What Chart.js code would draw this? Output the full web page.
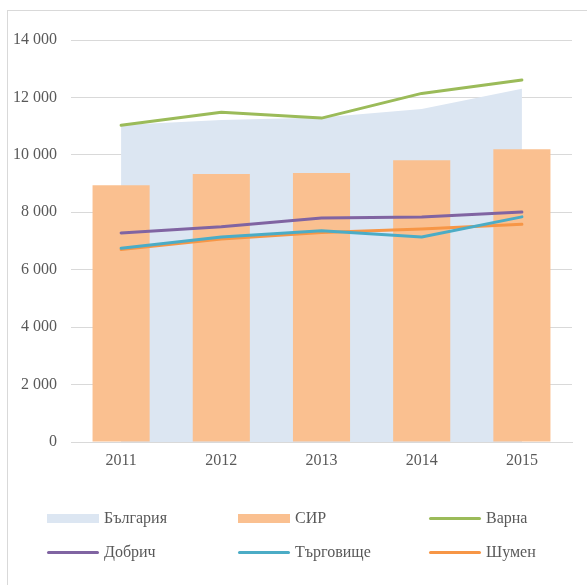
<!DOCTYPE html>
<html>
<head>
<meta charset="utf-8">
<script src="https://cdn.jsdelivr.net/npm/chart.js@4.4.1/dist/chart.umd.min.js"></script>
<style>
  html, body { margin: 0; padding: 0; background: #fff; }
  body { width: 587px; height: 585px; position: relative; overflow: hidden; font-family: "Liberation Serif", "Times New Roman", serif; }
  #frame { position: absolute; left: 7px; top: 10px; width: 620px; height: 620px; border: 1px solid #d9d9d9; box-sizing: border-box; }
  #wrap { position: absolute; left: 0; top: 0; width: 587px; height: 480px; }
  #legend { position: absolute; left: 0; top: 0; width: 587px; height: 585px; pointer-events: none; }
  .item { position: absolute; display: flex; align-items: center; height: 20px; color: #595959; font-size: 16px; white-space: nowrap; }
  .sw { width: 52px; margin-right: 5px; }
</style>
</head>
<body>
<div id="frame"></div>
<div id="wrap"><canvas id="chart"></canvas></div>
<div id="legend"></div>
<script>
// Данни
const years = ['2011', '2012', '2013', '2014', '2015'];
const bulgaria = [11040, 11215, 11300, 11600, 12300];
const sir = [8940, 9335, 9370, 9810, 10195];
const varna = [11030, 11480, 11280, 12140, 12610];
const dobrich = [7280, 7500, 7800, 7840, 8010];
const targovishte = [6750, 7140, 7360, 7140, 7840];
const shumen = [6700, 7070, 7300, 7420, 7580];

const tickColor = '#595959';
const gridColor = '#d9d9d9';
const font = { family: 'Liberation Serif', size: 16 };

function lineSet(label, data, color) {
  return {
    type: 'line',
    label: label,
    data: data,
    borderColor: color,
    backgroundColor: color,
    borderWidth: 3,
    borderCapStyle: 'round',
    borderJoinStyle: 'round',
    pointRadius: 0,
    tension: 0,
    fill: false,
    order: 1
  };
}

const ctx = document.getElementById('chart').getContext('2d');
const chart = new Chart(ctx, {
  data: {
    labels: years,
    datasets: [
      {
        type: 'line',
        label: 'България',
        data: bulgaria,
        backgroundColor: '#dce6f2',
        borderColor: '#dce6f2',
        borderWidth: 0,
        pointRadius: 0,
        fill: 'origin',
        order: 3
      },
      {
        type: 'bar',
        label: 'СИР',
        data: sir,
        backgroundColor: '#fac090',
        borderWidth: 0,
        barPercentage: 0.57,
        categoryPercentage: 1,
        order: 2
      },
      lineSet('Варна', varna, '#9bbb59'),
      lineSet('Добрич', dobrich, '#8064a2'),
      lineSet('Търговище', targovishte, '#4bacc6'),
      lineSet('Шумен', shumen, '#f79646')
    ]
  },
  options: {
    responsive: true,
    maintainAspectRatio: false,
    animation: false,
    layout: { padding: { top: 40, right: 15, left: 0, bottom: 0 } },
    plugins: {
      legend: { display: false },
      tooltip: { enabled: false }
    },
    scales: {
      x: {
        grid: { display: false, drawTicks: false },
        border: { display: true, color: gridColor, width: 1 },
        ticks: { color: tickColor, font: font, padding: 9 },
        afterFit: s => { s.height = 38; }
      },
      y: {
        min: 0,
        max: 14000,
        border: { display: false },
        grid: { color: gridColor, lineWidth: 1, drawTicks: false },
        ticks: {
          stepSize: 2000,
          color: tickColor,
          font: font,
          padding: 14,
          callback: v => String(v).replace(/\B(?=(\d{3})+(?!\d))/g, ' ')
        },
        afterFit: s => { s.width = 71; }
      }
    }
  }
});

// Легенда в HTML, подредена в 3 колони
const legendPos = [
  { x: 47, y: 508 }, { x: 238, y: 508 }, { x: 429, y: 508 },
  { x: 47, y: 542 }, { x: 238, y: 542 }, { x: 429, y: 542 }
];
const legendOrder = [0, 1, 2, 3, 4, 5];
const legend = document.getElementById('legend');
legendOrder.forEach((idx, i) => {
  const ds = chart.data.datasets[idx];
  const item = document.createElement('div');
  item.className = 'item';
  item.style.left = legendPos[i].x + 'px';
  item.style.top = legendPos[i].y + 'px';
  const sw = document.createElement('span');
  sw.className = 'sw';
  const isLine = ds.type === 'line' && !ds.fill;
  sw.style.height = isLine ? '3px' : '9px';
  sw.style.background = isLine ? ds.borderColor : ds.backgroundColor;
  if (isLine) sw.style.borderRadius = '2px';
  const txt = document.createElement('span');
  txt.textContent = ds.label;
  item.appendChild(sw);
  item.appendChild(txt);
  legend.appendChild(item);
});
</script>
</body>
</html>
